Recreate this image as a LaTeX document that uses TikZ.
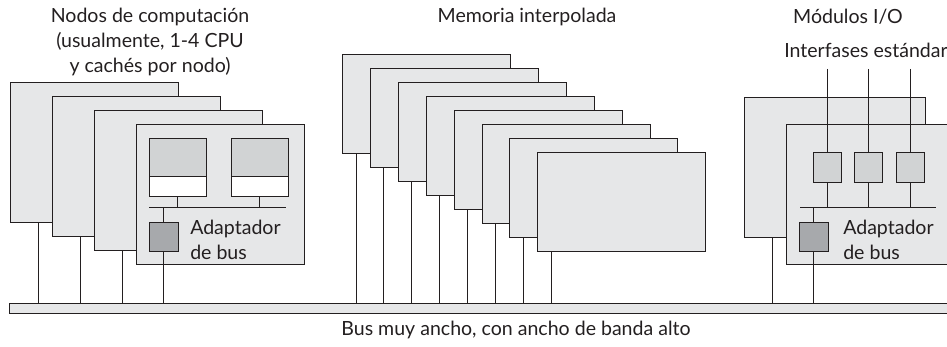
\documentclass[tikz,border=0pt]{standalone}
\usepackage{fontspec}
\setmainfont{Lato}
\usepackage{xcolor}
\usepackage{tikz}
\usetikzlibrary{positioning, calc}
\definecolor{cardbg}{HTML}{E6E7E8}
\definecolor{cpubg}{HTML}{D1D3D4}
\definecolor{adapbg}{HTML}{A7A9AC}
\definecolor{ink}{HTML}{231F20}
\tikzset{
  card/.style={
    draw=ink,
    line width=0.7pt,
    fill=cardbg,
    inner sep=0pt,
    anchor=north west
  },
  comp card/.style={card, minimum width=4.2cm, minimum height=3.5cm},
  mem card/.style={card, minimum width=4.2cm, minimum height=2.475cm},
  io card/.style={card, minimum width=4.525cm, minimum height=3.5cm},
  cpu/.style={
    draw=ink, line width=0.7pt, fill=cpubg,
    minimum width=1.425cm, minimum height=0.95cm, inner sep=0pt
  },
  cache/.style={
    draw=ink, line width=0.7pt, fill=white,
    minimum width=1.425cm, minimum height=0.475cm, inner sep=0pt
  },
  adapter/.style={
    draw=ink, line width=0.7pt, fill=adapbg,
    minimum width=0.725cm, minimum height=0.725cm, inner sep=0pt
  },
  port/.style={
    draw=ink, line width=0.7pt, fill=cpubg,
    minimum width=0.7cm, minimum height=0.75cm, inner sep=0pt
  },
  wide bus/.style={
    draw=ink, line width=0.7pt, fill=cardbg,
    minimum width=23.8cm, minimum height=0.25cm, inner sep=0pt,
    anchor=north west
  },
  wire/.style={draw=ink, line width=0.7pt},
  lbl/.style={font=\fontsize{13.9}{17.7}\selectfont, text=ink, inner sep=0pt}
}

\begin{document}
\begin{tikzpicture}[x=0.025cm, y=-0.025cm]
  \useasboundingbox (0,0) rectangle (947,347);

  % Bus
  \node[wide bus] (bus) at (9,303) {};
  \node[lbl] (buslbl) at (516,330) {Bus muy ancho, con ancho de banda alto};

  % Compute nodes
  \node[lbl, align=center] (comptitle) at (150,42)
    {Nodos de computación\\(usualmente, 1-4 CPU\\y cachés por nodo)};
  \foreach \i in {1,...,4} {
    \node[comp card] (comp\i) at ({10+42*(\i-1)}, {82+14*(\i-1)}) {};
  }
  \foreach \i in {1,2,3} {
    \path ($(comp\i.south west)+(28,0)$) coordinate (cw\i);
    \draw[wire] (cw\i) -- (cw\i |- bus.north);
  }
  \node[cpu] (cpuA) at (177.5,157) {};
  \node[cache, below=0pt of cpuA] (cacheA) {};
  \node[cpu] (cpuB) at (259.5,157) {};
  \node[cache, below=0pt of cpuB] (cacheB) {};
  \coordinate (cbusL) at (149,207);
  \coordinate (cbusR) at (286,207);
  \draw[wire] (cbusL) -- (cbusR);
  \draw[wire] (cacheA.south) -- (cacheA.south |- cbusL);
  \draw[wire] (cacheB.south) -- (cacheB.south |- cbusL);
  \node[adapter] (adapA) at (163.5,236.5) {};
  \draw[wire] (adapA.north) -- (adapA.north |- cbusL);
  \draw[wire] (adapA.south) -- (adapA.south |- bus.north);
  \node[lbl, align=left, anchor=west] (adaplblA) at (190,240) {Adaptador\\de bus};

  % Interleaved memory
  \node[lbl] (memtitle) at (527,17) {Memoria interpolada};
  \foreach \i in {1,...,8} {
    \node[mem card] (mem\i) at ({342+27.9*(\i-1)}, {54+14*(\i-1)}) {};
    \path ($(mem\i.south west)+(14,0)$) coordinate (mw\i);
    \draw[wire] (mw\i) -- (mw\i |- bus.north);
  }

  % I/O modules
  \node[lbl] (iotitle) at (848,17) {Módulos I/O};
  \node[lbl] (iflbl) at (866,50) {Interfases estándar};
  \node[io card] (io1) at (744,97) {};
  \path ($(io1.south west)+(28,0)$) coordinate (iw1);
  \draw[wire] (iw1) -- (iw1 |- bus.north);
  \node[io card] (io2) at (786,124) {};
  \coordinate (ibusL) at (800,207);
  \coordinate (ibusR) at (936,207);
  \draw[wire] (ibusL) -- (ibusR);
  \foreach \x [count=\i] in {827,868,910.5} {
    \coordinate (if\i) at (\x,69);
    \node[port] (port\i) at (\x,167) {};
    \draw[wire] (if\i) -- (port\i.north);
    \draw[wire] (port\i.south) -- (port\i.south |- ibusL);
  }
  \node[adapter] (adapB) at (813.5,236.5) {};
  \draw[wire] (adapB.north) -- (adapB.north |- ibusL);
  \draw[wire] (adapB.south) -- (adapB.south |- bus.north);
  \node[lbl, align=left, anchor=west] (adaplblB) at (843,240) {Adaptador\\de bus};
\end{tikzpicture}
\end{document}
